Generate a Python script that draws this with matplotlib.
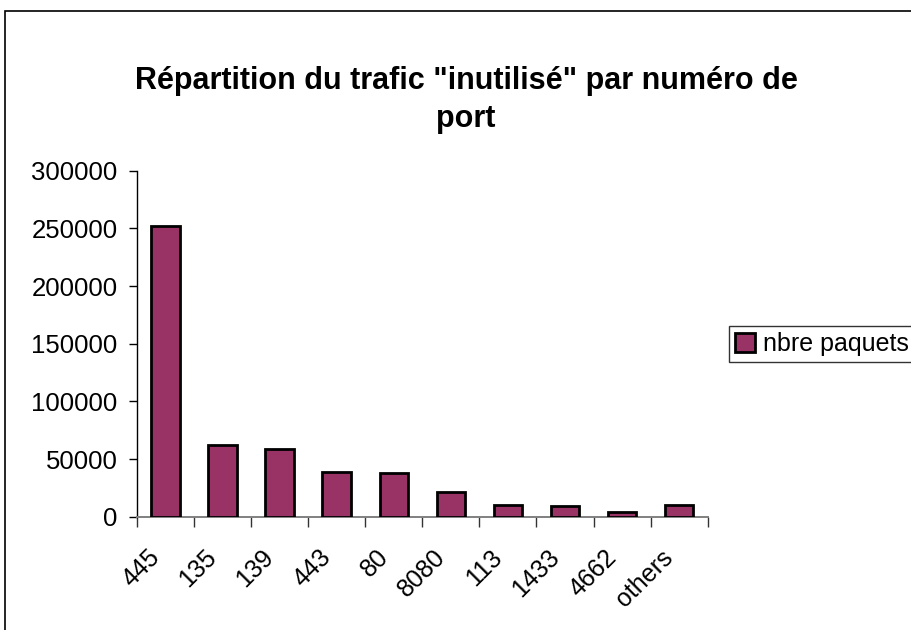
import numpy as np
import matplotlib.pyplot as plt
from matplotlib.patches import Rectangle
from matplotlib.transforms import ScaledTranslation

# Ports and packet counts
ports = ["445", "135", "139", "443", "80", "8080", "113", "1433", "4662", "others"]
packets = [252500, 62500, 59000, 38500, 37500, 21700, 10100, 9300, 3800, 10100]
y_ticks = [0, 50000, 100000, 150000, 200000, 250000, 300000]

plt.rcParams['font.family'] = ['Liberation Sans', 'DejaVu Sans']

fig = plt.figure(figsize=(9.11, 6.3), dpi=100)

# outer chart frame (Excel style), running off the right/bottom edges
fig.patches.append(Rectangle((5 / 911, -0.1), 1.2, 1 - 11 / 630 + 0.1,
                             transform=fig.transFigure, fill=False,
                             edgecolor='black', linewidth=1.2))

ax = fig.add_axes([137 / 911, 0.1798, (707.7 - 137) / 911, 0.729 - 0.1798])

x = np.arange(len(ports))
ax.bar(x, packets, width=0.5, color='#993366', edgecolor='black',
       linewidth=2.0, label='nbre paquets', zorder=3)

ax.set_xlim(-0.5, len(ports) - 0.5)
ax.set_ylim(0, 300000)
ax.set_yticks(y_ticks)
ax.set_yticklabels([str(v) for v in y_ticks], fontsize=18.5)

ax.set_xticks(x)
ax.set_xticklabels(ports, fontsize=18, rotation=45, ha='right',
                   rotation_mode='anchor')
ax.tick_params(axis='x', which='major', length=0, pad=14)
# nudge the rotated labels down/left like the original
shift = ScaledTranslation(-18 / 100, -9 / 100, fig.dpi_scale_trans)
for lab in ax.get_xticklabels():
    lab.set_transform(lab.get_transform() + shift)
ax.set_xticks(np.arange(-0.5, len(ports)), minor=True)
ax.tick_params(axis='x', which='minor', length=7, width=1, color='#333333',
               direction='out')
ax.tick_params(axis='y', length=6, width=1, direction='out', pad=8)

for s in ['top', 'right']:
    ax.spines[s].set_visible(False)
ax.spines['bottom'].set_color('#808080')
ax.spines['bottom'].set_linewidth(1.4)
ax.spines['left'].set_color('black')
ax.spines['left'].set_linewidth(1.0)

fig.text(466 / 911, 1 - 100 / 630, 'Répartition du trafic "inutilisé" par numéro de\nport',
         ha='center', va='center', fontsize=22, fontweight='bold',
         linespacing=1.35)

leg = ax.legend(loc='center left', bbox_to_anchor=(729 / 911, 1 - 344 / 630),
                bbox_transform=fig.transFigure, fontsize=18, frameon=True,
                fancybox=False, edgecolor='black', handlelength=0.8,
                handleheight=0.8, handletextpad=0.3, borderpad=0.25,
                borderaxespad=0)
leg.get_frame().set_linewidth(1.0)

fig.savefig('out.png', dpi=100)
